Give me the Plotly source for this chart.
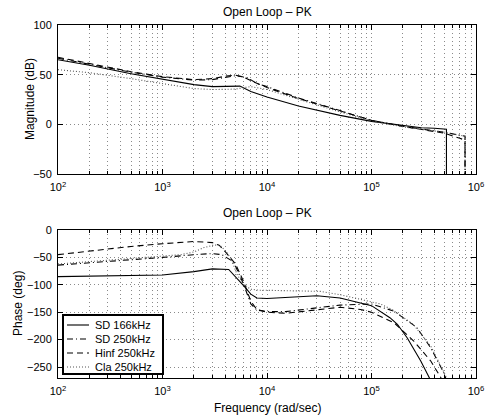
import plotly.graph_objects as go

plot_title = "Open Loop – PK"
x_label = "Frequency (rad/sec)"
mag_label = "Magnitude (dB)"
phase_label = "Phase (deg)"
series_names = ["SD 166kHz", "SD 250kHz", "Hinf 250kHz", "Cla 250kHz"]

x_tick_vals = [1e2, 1e3, 1e4, 1e5, 1e6]
x_tick_text = ["10<sup>2</sup>", "10<sup>3</sup>", "10<sup>4</sup>", "10<sup>5</sup>", "10<sup>6</sup>"]
x_minor_vals = [m * 10 ** k for k in range(2, 6) for m in range(2, 10)]
mag_ticks = [-50, 0, 50, 100]
phase_ticks = [-250, -200, -150, -100, -50, 0]

# ---------------- Magnitude (dB) ----------------
w_mag_sd166 = [100, 200, 500, 1000, 2000, 3000, 4000, 5500, 7000, 10000, 20000, 30000,
               50000, 100000, 200000, 300000, 400000, 500000, 521500, 521500]
mag_sd166 = [65, 59.5, 51, 45.5, 40, 38, 38, 38.5, 33, 27.5, 18.5, 14.5,
             9, 3, -1.5, -3.5, -4, -4.5, -5, -100]

w_mag_sd250 = [100, 200, 500, 1000, 2000, 3000, 4000, 5000, 6500, 8000, 10000, 20000,
               30000, 50000, 100000, 200000, 300000, 500000, 700000, 785000, 785000]
mag_sd250 = [66.5, 60.5, 52.5, 47.5, 44.5, 45, 47.5, 49, 47, 41, 38, 26.5,
             21, 13.5, 4, -2, -4.5, -8, -11, -12, -100]

w_mag_hinf = [100, 200, 500, 1000, 2000, 3000, 4000, 5000, 6000, 7000, 8650, 10000,
              20000, 30000, 50000, 100000, 200000, 300000, 500000, 700000, 785000, 785000]
mag_hinf = [67.5, 61, 53, 48, 45, 46, 48.5, 49.5, 47.5, 44, 40, 37,
            26, 20.5, 13, 4, -2, -5, -9, -14, -16, -100]

w_mag_cla = [100, 200, 500, 1000, 2000, 3000, 5000, 6000, 7000, 10000, 20000, 30000,
             50000, 100000, 200000, 300000, 500000, 700000, 785000, 785000]
mag_cla = [55, 52, 46, 41, 36, 35, 35.5, 37, 38, 35, 25, 19.5,
           12.5, 3.5, -2.5, -5, -8, -11, -12, -100]

# ---------------- Phase (deg) ----------------
w_ph_sd166 = [100, 300, 1000, 2000, 3000, 4300, 5000, 6000, 7000, 8000, 10000, 20000,
              30000, 50000, 100000, 150000, 177000, 220000, 296000, 363000, 380000]
ph_sd166 = [-85, -84, -82, -76, -71, -72, -85, -102, -117, -124, -125, -121,
            -120, -124, -138, -160, -172, -197, -239, -272, -290]

w_ph_sd250 = [100, 200, 500, 1000, 2000, 3000, 3700, 4500, 5000, 6000, 7000, 8000,
              10000, 15000, 30000, 50000, 100000, 164000, 272000, 369000, 500000, 540000]
ph_sd250 = [-64, -60, -54, -50, -45, -43, -45, -55, -66, -100, -135, -146,
            -149, -149, -142, -137, -135, -148, -178, -215, -263, -285]

w_ph_hinf = [100, 200, 500, 1000, 2000, 3000, 3500, 4000, 5000, 6000, 7000, 8000,
             10000, 15000, 30000, 50000, 78700, 100000, 164000, 255000, 369000, 460000, 490000]
ph_hinf = [-45, -38, -30, -25, -21, -23, -28, -40, -62, -95, -130, -145,
           -150, -152, -146, -141, -145, -150, -169, -203, -239, -269, -285]

w_ph_cla = [100, 200, 500, 1000, 1500, 2000, 2500, 3000, 3500, 4000, 4500, 5200,
            6000, 7000, 8500, 10000, 20000, 32500, 50000, 80000, 122000, 160000,
            250000, 370000, 510000, 540000]
ph_cla = [-62, -58, -52, -48, -45, -40, -32, -28, -27, -38, -51, -82,
          -100, -108, -110, -110, -111, -112, -118, -127, -135, -146,
          -172, -212, -265, -280]

styles = [
    dict(color="black", width=1.1, dash="solid"),
    dict(color="black", width=1.1, dash="6px,3px,1px,3px"),
    dict(color="black", width=1.1, dash="6px,4px"),
    dict(color="#555555", width=1.1, dash="1px,2px"),
]

mag_series = [(w_mag_sd166, mag_sd166), (w_mag_sd250, mag_sd250),
              (w_mag_hinf, mag_hinf), (w_mag_cla, mag_cla)]
ph_series = [(w_ph_sd166, ph_sd166), (w_ph_sd250, ph_sd250),
             (w_ph_hinf, ph_hinf), (w_ph_cla, ph_cla)]

fig = go.Figure()
for name, (w, m), st in zip(series_names, mag_series, styles):
    fig.add_trace(go.Scatter(x=w, y=m, mode="lines", line=st, name=name,
                             showlegend=False, xaxis="x", yaxis="y",
                             hoverinfo="skip"))
for name, (w, p), st in zip(series_names, ph_series, styles):
    fig.add_trace(go.Scatter(x=w, y=p, mode="lines", line=st, name=name,
                             showlegend=False, xaxis="x2", yaxis="y2",
                             hoverinfo="skip"))

W, H = 489, 420
L, R = 58, 476
top_t, top_b = 25, 174
bot_t, bot_b = 230, 378

font_family = "Liberation Sans, Arial, Helvetica, sans-serif"
grid_common = dict(showgrid=True, gridcolor="#8a8a8a", griddash="1px,3px", gridwidth=1)

def xaxis_cfg(anchor):
    return dict(
        domain=[L / W, R / W], anchor=anchor, type="log", range=[2, 6],
        tickmode="array", tickvals=x_tick_vals, ticktext=x_tick_text,
        ticks="inside", ticklen=5, tickcolor="black", tickwidth=1,
        showline=True, linecolor="black", linewidth=1, mirror="ticks",
        zeroline=False, automargin=False, ticklabelstandoff=3,
        tickfont=dict(size=11, color="black"),
        minor=dict(tickmode="array", tickvals=x_minor_vals, ticks="inside",
                   ticklen=3, tickcolor="black", **grid_common),
        **grid_common,
    )

def yaxis_cfg(anchor, top, bottom, rng, ticks):
    return dict(
        domain=[1 - bottom / H, 1 - top / H], anchor=anchor, range=rng,
        tickmode="array", tickvals=ticks,
        ticks="inside", ticklen=5, tickcolor="black", tickwidth=1,
        showline=True, linecolor="black", linewidth=1, mirror="ticks",
        zeroline=False, automargin=False, ticklabelstandoff=3,
        tickfont=dict(size=11, color="black"),
        **grid_common,
    )

def px(x):
    return x / W

def py(y):
    return 1 - y / H

# legend (drawn as a boxed key inside the phase axes)
leg_x0, leg_x1, leg_y0, leg_y1 = 63, 163, 315, 374
row_y = [325, 339, 353, 367]
shapes = [dict(type="rect", xref="paper", yref="paper",
               x0=px(leg_x0), x1=px(leg_x1), y0=py(leg_y1), y1=py(leg_y0),
               fillcolor="white", line=dict(color="black", width=2), layer="above")]
annotations = []
for name, st, ry in zip(series_names, styles, row_y):
    shapes.append(dict(type="line", xref="paper", yref="paper",
                       x0=px(67), x1=px(89), y0=py(ry), y1=py(ry),
                       line=dict(color=st["color"], width=1.1, dash=st["dash"]),
                       layer="above"))
    annotations.append(dict(text=name, x=px(93), y=py(ry), xref="paper", yref="paper",
                            showarrow=False, font=dict(size=11),
                            xanchor="left", yanchor="middle"))

annotations += [
    dict(text=plot_title, x=px(267), y=py(12), xref="paper", yref="paper",
         showarrow=False, font=dict(size=12), xanchor="center", yanchor="middle"),
    dict(text=plot_title, x=px(267), y=py(213), xref="paper", yref="paper",
         showarrow=False, font=dict(size=12), xanchor="center", yanchor="middle"),
    dict(text=x_label, x=px(267), y=py(408), xref="paper", yref="paper",
         showarrow=False, font=dict(size=12), xanchor="center", yanchor="middle"),
    dict(text=mag_label, x=px(30), y=py(99), xref="paper", yref="paper",
         showarrow=False, font=dict(size=12), textangle=-90,
         xanchor="center", yanchor="middle"),
    dict(text=phase_label, x=px(18), y=py(304), xref="paper", yref="paper",
         showarrow=False, font=dict(size=12), textangle=-90,
         xanchor="center", yanchor="middle"),
]

fig.update_layout(
    width=W, height=H,
    margin=dict(l=0, r=0, t=0, b=0),
    paper_bgcolor="white", plot_bgcolor="white",
    font=dict(family=font_family, size=11, color="black"),
    xaxis=xaxis_cfg("y"),
    yaxis=yaxis_cfg("x", top_t, top_b, [-50, 100], mag_ticks),
    xaxis2=xaxis_cfg("y2"),
    yaxis2=yaxis_cfg("x2", bot_t, bot_b, [-270, 0], phase_ticks),
    showlegend=False,
    shapes=shapes,
    annotations=annotations,
)

fig.write_html(
    "out.html",
    config={"displayModeBar": False, "staticPlot": True},
    post_script="document.body.style.margin='0';document.body.style.overflow='hidden';",
)
